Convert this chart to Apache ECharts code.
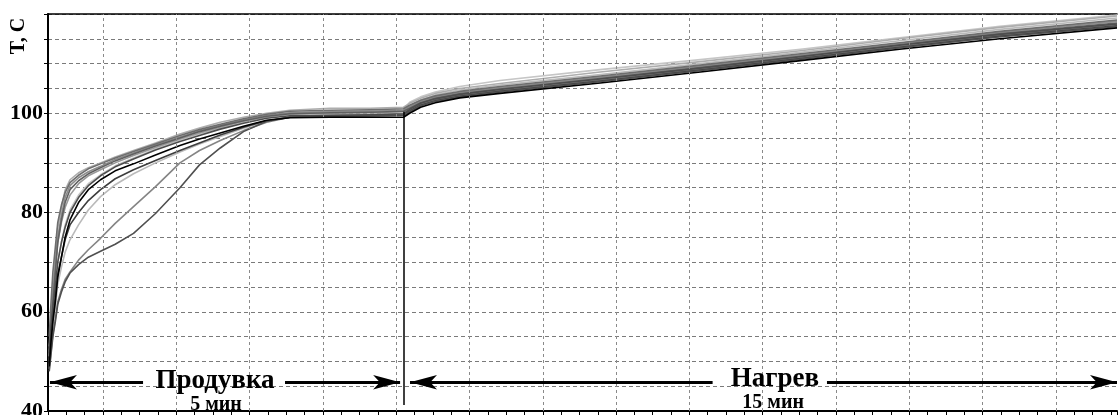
<!DOCTYPE html>
<html><head><meta charset="utf-8">
<script src="https://cdn.jsdelivr.net/npm/echarts@6/dist/echarts.min.js"></script>
<style>html,body{margin:0;padding:0;background:#fff}#c{width:1119px;height:415px}</style>
</head><body><div id="c"></div>
<script>
// time (s) of samples: blowdown phase and heating phase
const blowTime = [1,2.5,4,6,8,11,14,18,25,33,43,55,70,88,108,124,141,160,179,198,231,264,291];
const heatTime = [296,305,317,337,370,452,534,616,697,779,875];

// temperature curves (°C)
const curveJBlow = [51,56,61,65,70,74,77.5,80.5,83.5,85.8,87.6,89.4,91,92.8,94.6,95.8,97,98.2,99.2,100,100.4,100.5,100.7];
const curveJHeat = [102.2,103.3,104.3,105.4,106.6,108.8,110.8,112.9,115.2,117.5,119.8];
const curveBBlow = [52,58,65,71,77,81,84.5,86.6,88,89,90,91.2,92.5,94,95.8,97,98.2,99.2,100,100.6,101,101,101.2];
const curveBHeat = [102.0,103.0,104.0,105.0,106.0,108.3,110.4,112.6,115.0,117.3,119.6];
const curveGBlow = [49,53,57,61,65.5,69,72,74.5,77.5,80.5,83.2,85.6,87.8,90,92.2,93.8,95.3,97,98.4,99.3,99.7,99.8,100];
const curveGHeat = [101.5,102.7,103.7,104.7,105.7,107.8,110.0,112.3,114.6,116.9,119.2];
const curveDBlow = [53,59,64,69,74,78,81,83.5,85.8,87.4,88.6,90,91.5,93.1,94.8,96,97.2,98.4,99.3,99.8,100,100.1,100.3];
const curveDHeat = [101.2,102.3,103.2,104.1,105.1,107.2,109.4,111.7,114.0,116.2,118.5];
const curveKBlow = [51,57,63,69,75,79.5,83,85.4,87,88.2,89.3,90.7,92,93.6,95.2,96.4,97.6,98.7,99.6,100.1,100.3,100.4,100.6];
const curveKHeat = [101.3,102.4,103.3,104.2,105.2,107.3,109.5,111.8,114.1,116.3,118.6];
const curveHBlow = [48.5,52,55.5,58.5,62,64.5,66.5,68,70.4,72.5,74.8,77.8,81.2,85.2,90,92.5,94.5,96.5,98.2,99.2,99.5,99.6,99.8];
const curveHHeat = [100.6,101.8,102.7,103.6,104.6,106.7,108.9,111.2,113.5,115.7,117.9];
const curveABlow = [55,62,68,73,78,81.5,84,86,87.5,88.8,89.8,91,92.3,93.8,95.5,96.7,97.8,98.9,99.8,100.4,100.6,100.7,100.9];
const curveAHeat = [101.6,102.6,103.5,104.4,105.4,107.5,109.7,112.0,114.2,116.5,118.8];
const curveCBlow = [50,56,62,68,74,78.5,82,84.6,86.4,87.8,89,90.4,91.8,93.4,95,96.3,97.4,98.5,99.4,99.9,100.1,100.2,100.4];
const curveCHeat = [101.0,102.1,103.0,103.9,104.9,107.0,109.2,111.5,113.8,116.0,118.2];
const curveLBlow = [52,57,61,65,70,74,77,80,83,85.4,87.4,89.2,90.8,92.6,94.3,95.5,96.8,98,99,99.5,99.6,99.7,99.9];
const curveLHeat = [100.8,102.0,102.9,103.8,104.8,106.9,109.1,111.4,113.7,115.9,118.0];
const curveFBlow = [50,55,59,63,67.5,71,74.5,77.5,80,82.4,84.6,86.8,88.6,90.5,92.5,94,95.6,97.2,98.5,99.2,99.4,99.5,99.6];
const curveFHeat = [100.4,101.6,102.5,103.4,104.4,106.5,108.7,111.0,113.3,115.5,117.6];
const curveIBlow = [48,51.5,55,58,61.5,64,66,67.8,69.5,71,72.2,73.6,75.8,79.8,85,89.6,93,96.3,98.4,99.2,99.4,99.5,99.6];
const curveIHeat = [100.3,101.5,102.4,103.3,104.3,106.4,108.6,110.9,113.2,115.4,117.5];
const curveEBlow = [49,54,58,62,67,71,75,78.5,82,84.6,86.6,88.4,89.8,91.6,93.5,94.8,96,97.4,98.6,99.1,99.2,99.2,99.2];
const curveEHeat = [100.0,101.2,102.1,103.1,104.0,106.1,108.3,110.6,112.9,115.0,117.2];

// axis ticks
const yLabels = [40, 60, 80, 100];
const gridX = [45,105,165,225,285,345,405,465,525,585,645,705,765,825];

// annotations (data coordinates)
const phaseTime = 291.4;
const arrowLevel = 45.8;
const arrowSegments = [[1.6, 77.8, 'start'], [194, 288.2, 'end'], [296.3, 544, 'start'], [637.6, 875, 'end']];
const phaseTexts = [
  {t: 136.7, v: 46.0, text: 'Продувка', size: 27},
  {t: 137.5, v: 41.3, text: '5 мин', size: 20},
  {t: 595, v: 46.4, text: 'Нагрев', size: 27},
  {t: 593.5, v: 41.6, text: '15 мин', size: 20}
];

const curves = [
  ['J', '#c6c6c6', curveJBlow, curveJHeat],
  ['B', '#adadad', curveBBlow, curveBHeat],
  ['G', '#bababa', curveGBlow, curveGHeat],
  ['D', '#9a9a9a', curveDBlow, curveDHeat],
  ['K', '#8c8c8c', curveKBlow, curveKHeat],
  ['H', '#858585', curveHBlow, curveHHeat],
  ['A', '#6e6e6e', curveABlow, curveAHeat],
  ['C', '#606060', curveCBlow, curveCHeat],
  ['L', '#4d4d4d', curveLBlow, curveLHeat],
  ['F', '#3d3d3d', curveFBlow, curveFHeat],
  ['I', '#505050', curveIBlow, curveIHeat],
  ['E', '#000000', curveEBlow, curveEHeat]
];

function build(blow, heat) {
  const d = [];
  blowTime.forEach((t, i) => d.push([t, blow[i]]));
  heatTime.forEach((t, i) => d.push([t, heat[i]]));
  return d;
}

const serif = '"Liberation Serif", "DejaVu Serif", serif';
const series = [];

// vertical dashed grid
series.push({
  type: 'line', data: [], silent: true, z: 1,
  markLine: {
    silent: true, symbol: ['none', 'none'], label: {show: false},
    lineStyle: {type: [3, 3], color: '#8a8a8a', width: 1},
    emphasis: {disabled: true},
    data: gridX.map(x => ({xAxis: x}))
  }
});

curves.forEach(c => {
  series.push({
    name: c[0], type: 'line', data: build(c[2], c[3]), z: 3,
    showSymbol: false, symbol: 'none', smooth: false,
    lineStyle: {color: c[1], width: 1.6, join: 'round'},
    emphasis: {disabled: true}
  });
});

// annotations
const markLines = [
  [{coord: [phaseTime, 100.3], symbol: 'none', lineStyle: {color: '#000', width: 1.5, type: 'solid'}},
   {coord: [phaseTime, 41.2], symbol: 'none'}]
];
arrowSegments.forEach(s => {
  markLines.push([
    {coord: [s[0], arrowLevel], symbol: s[2] === 'start' ? 'arrow' : 'none'},
    {coord: [s[1], arrowLevel], symbol: s[2] === 'end' ? 'arrow' : 'none'}
  ]);
});
series.push({
  type: 'line', data: [], z: 5, silent: true,
  markLine: {
    silent: true, symbolSize: [11, 27], label: {show: false},
    lineStyle: {color: '#000', width: 3, type: 'solid'},
    emphasis: {disabled: true},
    data: markLines
  },
  markPoint: {
    silent: true, symbol: 'circle', symbolSize: 1,
    itemStyle: {color: 'rgba(0,0,0,0)'},
    data: phaseTexts.map(p => ({
      coord: [p.t, p.v],
      label: {show: true, position: 'inside', formatter: p.text, color: '#000',
        fontFamily: serif, fontWeight: 'bold', fontSize: p.size}
    }))
  }
});

const chart = echarts.init(document.getElementById('c'), null, {renderer: 'canvas'});
chart.setOption({
  animation: false,
  backgroundColor: '#fff',
  grid: {left: 48, right: 2, top: 14, bottom: 4, containLabel: false, outerBoundsMode: 'none'},
  xAxis: [{
    type: 'value', min: 0, max: 875, interval: 15,
    axisLine: {show: true, onZero: false, lineStyle: {color: '#000', width: 2}},
    axisTick: {show: true, inside: false, length: 4, lineStyle: {color: '#000', width: 1}},
    axisLabel: {show: false}, splitLine: {show: false}
  }, {
    type: 'value', min: 0, max: 875, position: 'top',
    axisLine: {show: true, onZero: false, lineStyle: {color: '#000', width: 1.5}},
    axisTick: {show: false}, axisLabel: {show: false}, splitLine: {show: false}
  }],
  yAxis: {
    type: 'value', min: 40, max: 120, interval: 5,
    axisLine: {show: true, onZero: false, lineStyle: {color: '#000', width: 2}},
    axisTick: {show: true, length: 4, lineStyle: {color: '#000'}},
    axisLabel: {
      margin: 5, color: '#000', fontFamily: serif, fontWeight: 'bold', fontSize: 22,
      formatter: v => yLabels.indexOf(v) >= 0 ? String(v) : ''
    },
    splitLine: {show: true, lineStyle: {type: [4, 3], color: '#7a7a7a', width: 1}}
  },
  graphic: [{
    type: 'text', x: 19, y: 36, rotation: Math.PI / 2,
    style: {text: 'T, C', fill: '#000', font: 'bold 20px ' + serif, textAlign: 'center', textVerticalAlign: 'middle'}
  }],
  series: series
});
</script>
</body></html>
